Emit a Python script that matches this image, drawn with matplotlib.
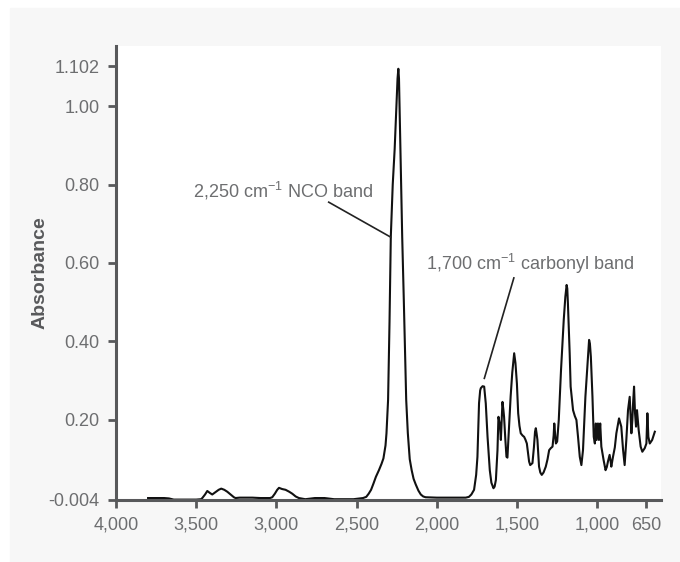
import numpy as np
import matplotlib
matplotlib.use("Agg")
import matplotlib.pyplot as plt
from matplotlib.patches import Rectangle
from matplotlib.ticker import FixedLocator, FixedFormatter

plt.rcParams['font.family'] = ['Liberation Sans', 'DejaVu Sans']
plt.rcParams['mathtext.fontset'] = 'custom'
plt.rcParams['mathtext.rm'] = 'Liberation Sans'
plt.rcParams['mathtext.it'] = 'Liberation Sans'

# spectrum (wavenumber cm-1, absorbance)
wavenumber = [3800, 3760, 3700, 3670, 3640, 3500, 3470, 3462, 3445, 3431, 3415, 3400,
              3380, 3360, 3344, 3325, 3306, 3285, 3265, 3255, 3230, 3150, 3100, 3040,
              3026, 3010, 2995, 2984, 2965, 2943, 2920, 2901, 2880, 2860, 2820, 2760,
              2700, 2640, 2520, 2460, 2440, 2425, 2410, 2395, 2380, 2361, 2345, 2333,
              2320, 2314, 2304, 2295, 2287, 2275, 2263, 2252, 2245, 2240, 2236, 2230,
              2226, 2216, 2206, 2191, 2181, 2169, 2157, 2145, 2132, 2115, 2100, 2085,
              2070, 2000, 1900, 1820, 1800, 1785, 1768, 1755, 1747, 1737, 1730, 1726,
              1715, 1705, 1695, 1684, 1670, 1660, 1647, 1640, 1632, 1622, 1616, 1610,
              1606, 1601, 1596, 1591, 1585, 1581, 1573, 1566, 1560, 1550, 1540, 1530,
              1518, 1510, 1501, 1493, 1485, 1477, 1465, 1456, 1448, 1439, 1425, 1418,
              1410, 1404, 1395, 1388, 1383, 1378, 1373, 1363, 1355, 1346, 1335, 1321,
              1310, 1300, 1290, 1279, 1272, 1268, 1263, 1258, 1250, 1240, 1226, 1209,
              1199, 1191, 1187, 1183, 1172, 1166, 1151, 1140, 1130, 1120, 1109, 1099,
              1089, 1074, 1060, 1051, 1046, 1040, 1030, 1022, 1015, 1009, 1004, 995,
              988, 979, 971, 955, 941, 932, 924, 912, 905, 900, 888, 875,
              864, 852, 845, 838, 829, 816, 805, 793, 781, 769, 762, 757,
              750, 745, 738, 731, 724, 717, 705, 691, 679, 662, 650, 643,
              636, 626, 609, 590]
absorbance = [0.001, 0.001, 0.001, 0.000, -0.003, -0.003, -0.002, 0.001, 0.010, 0.019, 0.014, 0.010,
              0.016, 0.022, 0.025, 0.022, 0.017, 0.010, 0.003, 0.001, 0.002, 0.002, 0.001, 0.001,
              0.003, 0.012, 0.022, 0.027, 0.024, 0.022, 0.017, 0.012, 0.005, 0.001, -0.002, 0.001,
              0.001, -0.002, -0.002, 0.001, 0.004, 0.012, 0.022, 0.038, 0.055, 0.072, 0.088, 0.102,
              0.135, 0.166, 0.251, 0.450, 0.667, 0.800, 0.890, 1.000, 1.070, 1.095, 1.070, 0.950,
              0.880, 0.667, 0.506, 0.251, 0.167, 0.100, 0.072, 0.050, 0.036, 0.020, 0.010, 0.005,
              0.003, 0.002, 0.002, 0.002, 0.004, 0.010, 0.022, 0.060, 0.106, 0.243, 0.275, 0.281,
              0.286, 0.285, 0.242, 0.157, 0.072, 0.040, 0.026, 0.030, 0.047, 0.123, 0.208, 0.195,
              0.183, 0.149, 0.200, 0.246, 0.225, 0.208, 0.150, 0.106, 0.104, 0.180, 0.260, 0.320,
              0.370, 0.345, 0.293, 0.217, 0.185, 0.166, 0.160, 0.157, 0.150, 0.140, 0.094, 0.085,
              0.088, 0.090, 0.130, 0.170, 0.179, 0.165, 0.149, 0.081, 0.066, 0.060, 0.066, 0.081,
              0.100, 0.123, 0.128, 0.132, 0.160, 0.191, 0.165, 0.140, 0.145, 0.200, 0.327, 0.455,
              0.514, 0.544, 0.535, 0.497, 0.370, 0.285, 0.225, 0.210, 0.200, 0.157, 0.106, 0.085,
              0.123, 0.259, 0.350, 0.404, 0.395, 0.361, 0.259, 0.157, 0.140, 0.191, 0.149, 0.191,
              0.149, 0.191, 0.132, 0.098, 0.072, 0.080, 0.094, 0.111, 0.095, 0.081, 0.106, 0.130,
              0.166, 0.190, 0.204, 0.195, 0.183, 0.123, 0.085, 0.149, 0.225, 0.259, 0.208, 0.166,
              0.200, 0.242, 0.285, 0.217, 0.183, 0.225, 0.174, 0.132, 0.119, 0.128, 0.140, 0.217,
              0.157, 0.140, 0.149, 0.170]

x_ticks = [4000, 3500, 3000, 2500, 2000, 1500, 1000, 650]
x_labels = ['4,000', '3,500', '3,000', '2,500', '2,000', '1,500', '1,000', '650']
y_ticks = [-0.004, 0.20, 0.40, 0.60, 0.80, 1.00, 1.102]
y_labels = ['-0.004', '0.20', '0.40', '0.60', '0.80', '1.00', '1.102']

SQ = 0.875  # region below 1000 cm-1 is drawn squeezed


def fwd(x):
    x = np.asarray(x, dtype=float)
    return np.where(x >= 1000, x, 1000 - (1000 - x) * SQ)


def inv(t):
    t = np.asarray(t, dtype=float)
    return np.where(t >= 1000, t, 1000 - (1000 - t) / SQ)


axis_col = '#58595b'
text_col = '#6d6e70'

fig = plt.figure(figsize=(6.8, 5.62), dpi=100)
fig.patches.append(Rectangle((10 / 680, 0), 1 - 10 / 680, (562 - 8) / 562,
                             transform=fig.transFigure, color='#f7f7f7', zorder=-5))

ax = fig.add_axes([116 / 680, 1 - 500 / 562, (661 - 116) / 680, (500 - 46) / 562])
ax.set_zorder(1)
ax.set_facecolor('white')
ax.set_xscale('function', functions=(fwd, inv))
ax.plot(wavenumber, absorbance, color='#111111', lw=1.5, zorder=2)

ax.set_xlim(4000, 546)
ax.set_ylim(-0.004, 1.153)

ax.xaxis.set_major_locator(FixedLocator(x_ticks))
ax.xaxis.set_major_formatter(FixedFormatter(x_labels))
ax.xaxis.set_minor_locator(FixedLocator([]))
ax.yaxis.set_major_locator(FixedLocator(y_ticks))
ax.yaxis.set_major_formatter(FixedFormatter(y_labels))

for s in ['top', 'right']:
    ax.spines[s].set_visible(False)
for s in ['left', 'bottom']:
    ax.spines[s].set_color(axis_col)
    ax.spines[s].set_linewidth(2.2)
ax.tick_params(axis='both', direction='out', length=6, width=2, color=axis_col,
               labelcolor=text_col, labelsize=13, pad=6)

ax.set_ylabel('Absorbance', fontsize=14, fontweight='bold', color='#58595b', labelpad=0)

# annotations
ax.text(3517, 0.783, '2,250 cm$^{-1}$ NCO band', fontsize=13, color=text_col,
        ha='left', va='center')
ax.plot([2674, 2288], [0.755, 0.666], color='#222222', lw=1.2)
ax.text(2069, 0.597, '1,700 cm$^{-1}$ carbonyl band', fontsize=13, color=text_col,
        ha='left', va='center')
ax.plot([1520, 1704], [0.562, 0.306], color='#222222', lw=1.2)

fig.savefig('out.png', dpi=100)
